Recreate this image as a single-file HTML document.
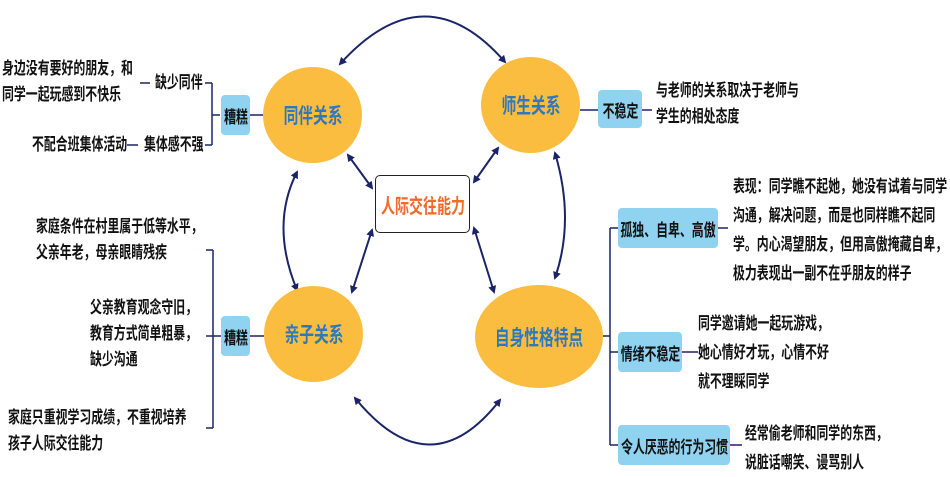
<!DOCTYPE html>
<html><head><meta charset="utf-8"><style>
body{margin:0;width:950px;height:475px;background:#fff;position:relative;overflow:hidden;font-family:"Liberation Sans","Noto Sans CJK SC",sans-serif;font-weight:bold;color:#111}
.t{position:absolute;font-size:17px;line-height:26px;white-space:nowrap;transform:scaleX(.7);transform-origin:0 0}
.b{position:absolute;background:#8fd3f0;border-radius:4px;font-size:17px;display:flex;align-items:center;justify-content:center;white-space:nowrap}
.b span,.c span,.m span{display:inline-block;transform:scaleX(.7)}
.c{position:absolute;background:#fbbd3f;border-radius:50%;color:#2e78c0;font-size:21px;display:flex;align-items:center;justify-content:center;white-space:nowrap}
</style></head><body>
<svg width="950" height="475" style="position:absolute;left:0;top:0">
<defs><marker id="a" markerWidth="8" markerHeight="8" refX="6" refY="4" orient="auto-start-reverse" markerUnits="userSpaceOnUse"><path d="M0,0 L8,4 L0,8 z" fill="#1a2466"/></marker></defs>
<g stroke="#1a2466" stroke-width="2" fill="none">
<path d="M340,64 Q425,-30 505,62" marker-start="url(#a)" marker-end="url(#a)"/>
<path d="M355,398 Q430,490 500,400" marker-start="url(#a)" marker-end="url(#a)"/>
<path d="M297,172 Q270,225 297,290" marker-start="url(#a)" marker-end="url(#a)"/>
<path d="M555,153 Q575,220 555,278" marker-start="url(#a)" marker-end="url(#a)"/>
<path d="M348,155 L372,188" marker-start="url(#a)" marker-end="url(#a)"/>
<path d="M498,148 L474,182" marker-start="url(#a)" marker-end="url(#a)"/>
<path d="M372,230 L352,292" marker-start="url(#a)" marker-end="url(#a)"/>
<path d="M474,228 L494,292" marker-start="url(#a)" marker-end="url(#a)"/>
</g>
<g stroke="#1a2466" stroke-width="1.5" fill="none">
<path d="M140,83 H150 M220,115 H212 M212,83 V145 M212,83 H205 M212,145 H205 M127,145 H138 M250,115 H263"/>
<path d="M580,110 H598 M642,110 H652"/>
<path d="M603,336 H610 M610,228 V445 M610,228 H618 M610,352 H618 M610,445 H618 M718,228 H728 M682,352 H698 M730,445 H742"/>
<path d="M221,336 H213 M213,250 V428 M213,250 H206 M213,336 H206 M213,428 H206 M250,336 H264"/>
</g>
</svg>
<div class="t" style="left:2px;top:56px">身边没有要好的朋友，和<br>同学一起玩感到不快乐</div>
<div class="t" style="left:155px;top:70px">缺少同伴</div>
<div class="t" style="left:32px;top:132px">不配合班集体活动</div>
<div class="t" style="left:144px;top:132px">集体感不强</div>
<div class="b" style="left:221px;top:95px;width:29px;height:40px"><span>糟糕</span></div>
<div class="c" style="left:263px;top:67px;width:99px;height:96px"><span>同伴关系</span></div>
<div class="c" style="left:481px;top:57px;width:99px;height:96px"><span>师生关系</span></div>
<div class="b" style="left:598px;top:90px;width:44px;height:38px"><span>不稳定</span></div>
<div class="t" style="left:656px;top:78px">与老师的关系取决于老师与<br>学生的相处态度</div>
<div class="m" style="position:absolute;left:375px;top:175px;width:93px;height:56px;border:1.5px solid #222;border-radius:5px;display:flex;align-items:center;justify-content:center;color:#f06a28;font-size:20px;white-space:nowrap"><span>人际交往能力</span></div>
<div class="c" style="left:264px;top:286px;width:99px;height:96px"><span>亲子关系</span></div>
<div class="b" style="left:221px;top:316px;width:29px;height:40px"><span>糟糕</span></div>
<div class="t" style="left:36px;top:214px">家庭条件在村里属于低等水平，<br>父亲年老，母亲眼睛残疾</div>
<div class="t" style="left:90px;top:295px">父亲教育观念守旧，<br>教育方式简单粗暴，<br>缺少沟通</div>
<div class="t" style="left:8px;top:405px">家庭只重视学习成绩，不重视培养<br>孩子人际交往能力</div>
<div class="c" style="left:475px;top:285px;width:128px;height:103px"><span>自身性格特点</span></div>
<div class="b" style="left:618px;top:208px;width:100px;height:40px"><span>孤独、自卑、高傲</span></div>
<div class="b" style="left:618px;top:332px;width:64px;height:40px"><span>情绪不稳定</span></div>
<div class="b" style="left:618px;top:425px;width:112px;height:40px"><span>令人厌恶的行为习惯</span></div>
<div class="t" style="left:733px;top:172px;line-height:29px">表现：同学瞧不起她，她没有试着与同学<br>沟通，解决问题，而是也同样瞧不起同<br>学。内心渴望朋友，但用高傲掩藏自卑，<br>极力表现出一副不在乎朋友的样子</div>
<div class="t" style="left:698px;top:309px;line-height:29px">同学邀请她一起玩游戏，<br>她心情好才玩，心情不好<br>就不理睬同学</div>
<div class="t" style="left:745px;top:419px;line-height:29px">经常偷老师和同学的东西，<br>说脏话嘲笑、谩骂别人</div>
</body></html>
